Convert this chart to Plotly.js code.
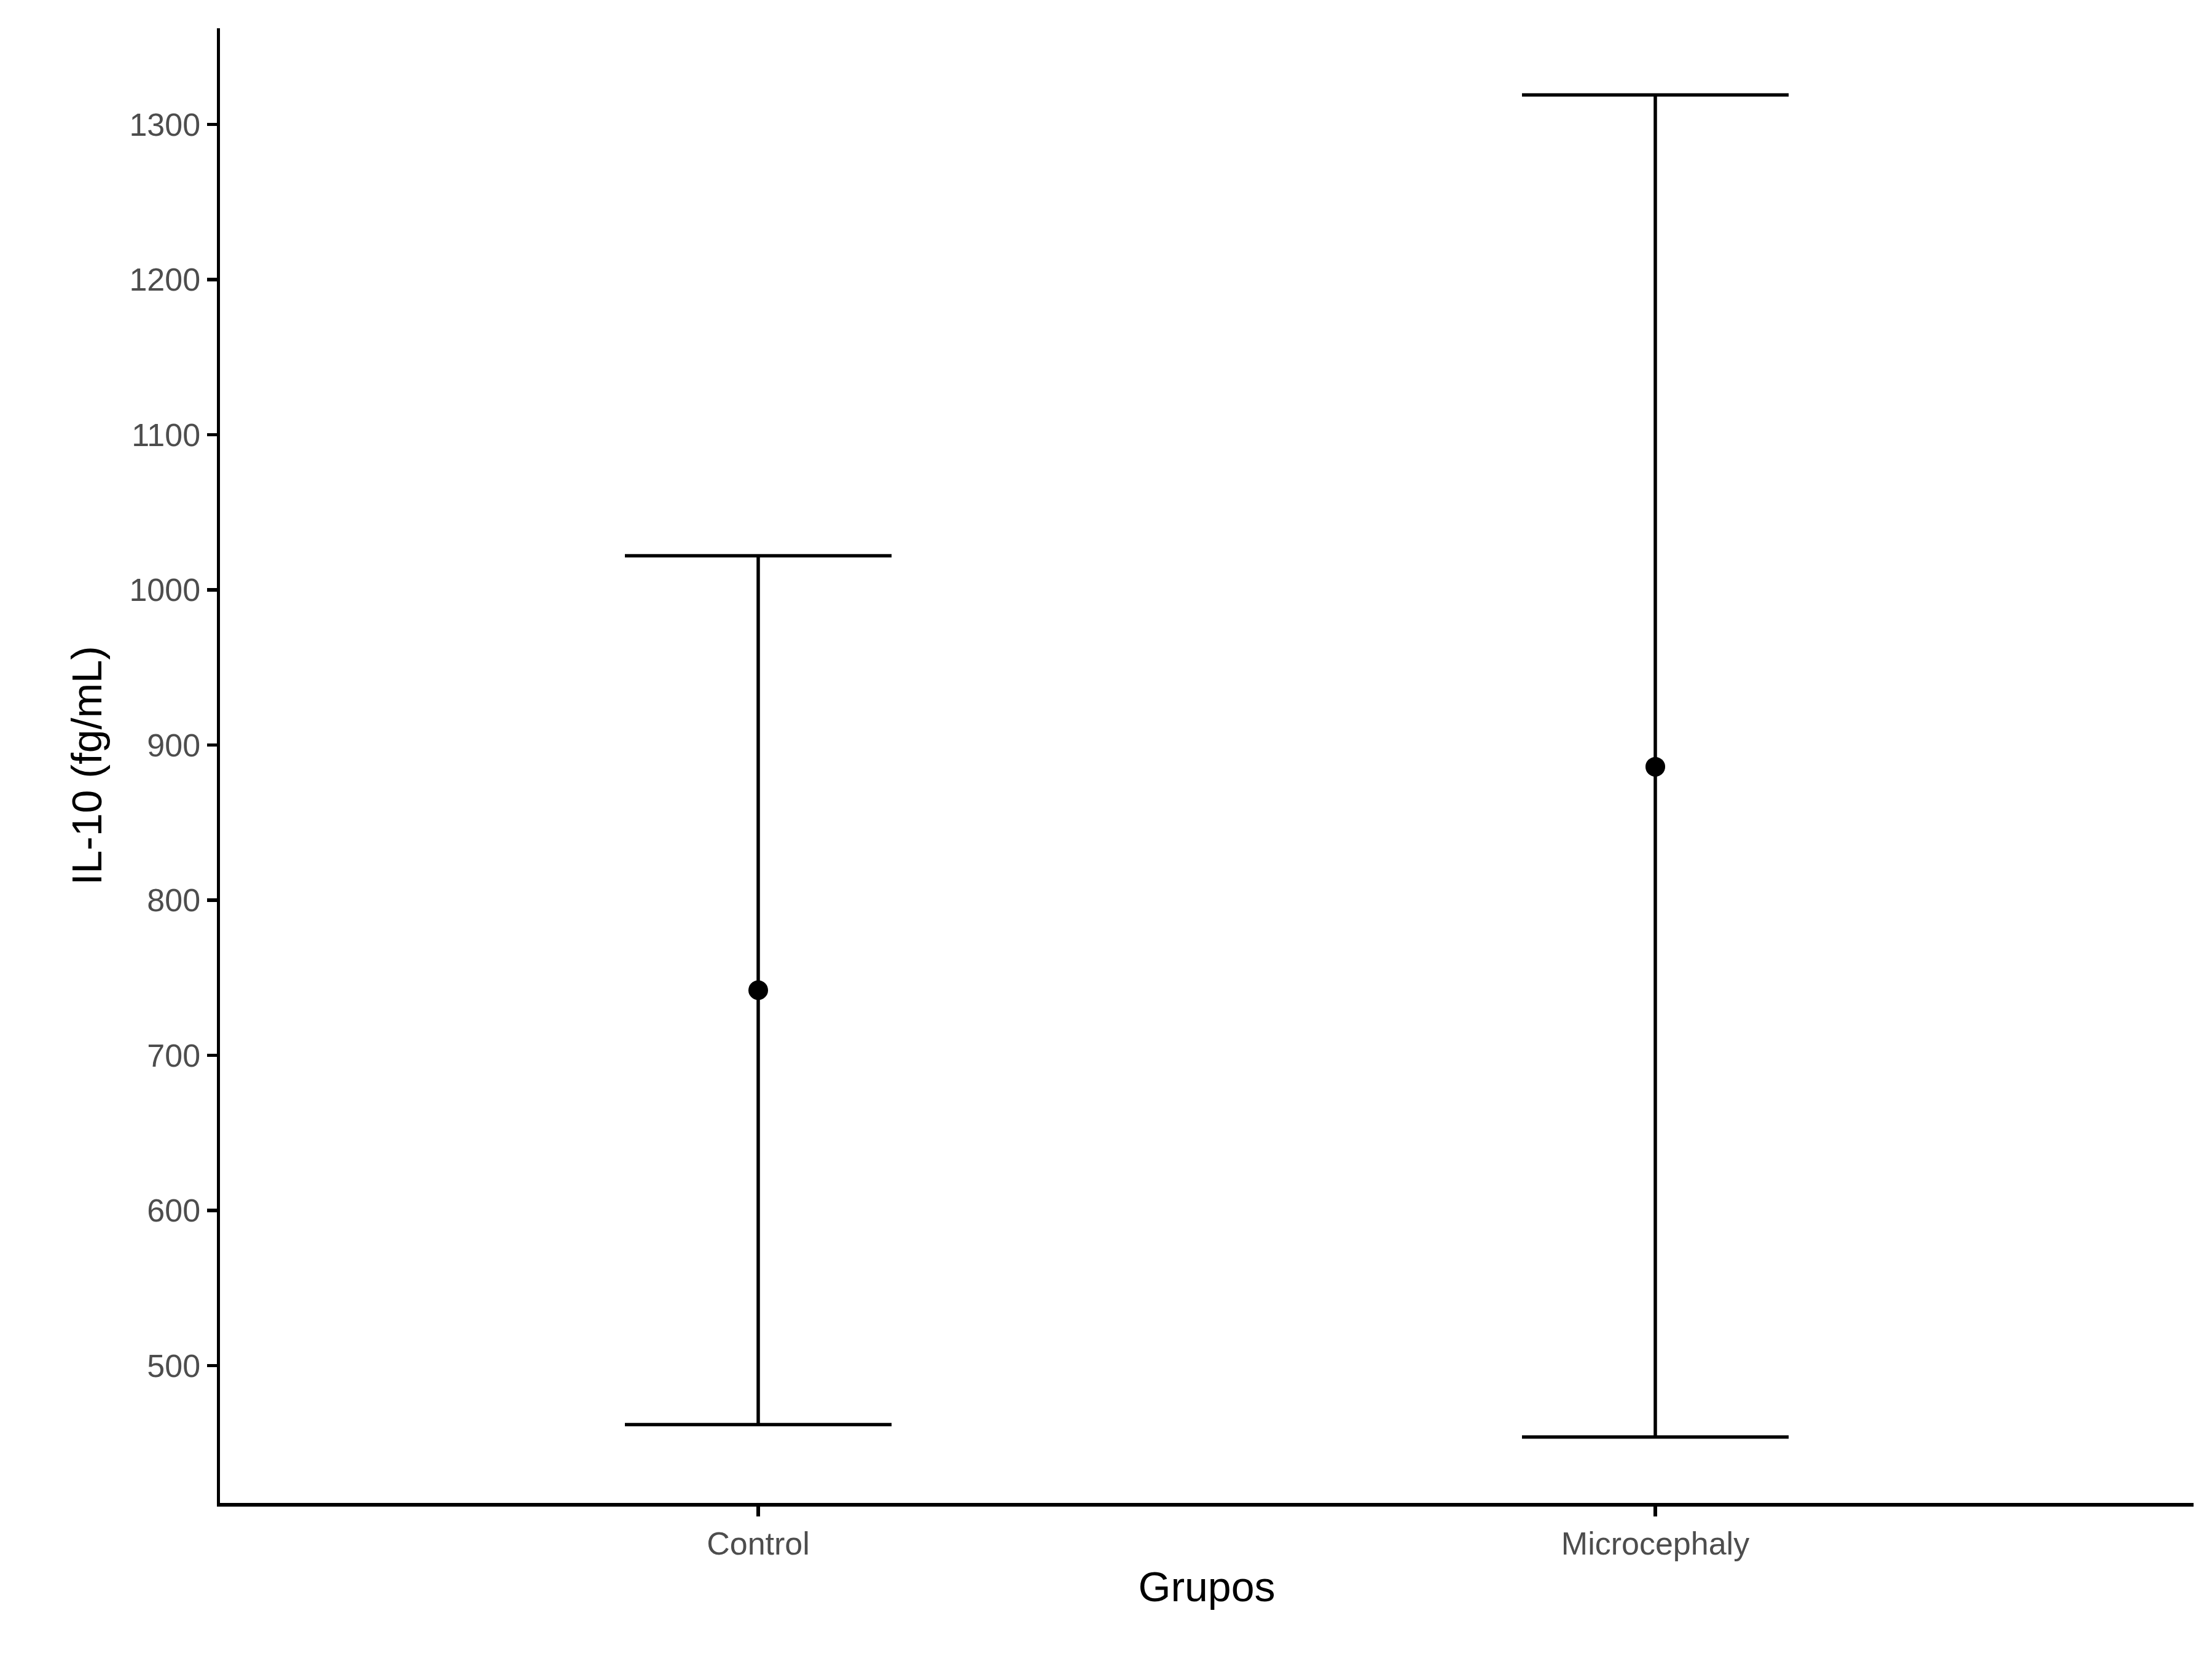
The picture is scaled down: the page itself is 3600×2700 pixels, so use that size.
<!DOCTYPE html>
<html>
<head>
<meta charset="utf-8">
<script src="https://cdn.plot.ly/plotly-3.0.1.min.js"></script>
<style>html,body{margin:0;padding:0;background:#fff}#plot{width:3600px;height:2700px}</style>
</head>
<body>
<div id="plot"></div>
<script>
// Data
const groups = ["Control", "Microcephaly"];
const means = [742, 886];
const upper = [1022, 1319];
const lower = [462, 454];

const errPlus = means.map((m, i) => upper[i] - m);
const errMinus = means.map((m, i) => m - lower[i]);

const trace = {
  type: "scatter",
  mode: "markers",
  x: groups,
  y: means,
  marker: { color: "#000", size: 32 },
  error_y: {
    type: "data",
    symmetric: false,
    array: errPlus,
    arrayminus: errMinus,
    color: "#000",
    thickness: 5.5,
    width: 217
  },
  hoverinfo: "skip"
};

const layout = {
  width: 3600,
  height: 2700,
  margin: { l: 358, r: 30, t: 46, b: 254 },
  paper_bgcolor: "#fff",
  plot_bgcolor: "#fff",
  showlegend: false,
  font: { family: "Liberation Sans, Arial, sans-serif" },
  xaxis: {
    type: "category",
    range: [-0.6, 1.6],
    showline: true, linecolor: "#000", linewidth: 5.5,
    showgrid: false, zeroline: false,
    ticks: "outside", ticklen: 16, tickwidth: 5.5, tickcolor: "#000",
    tickfont: { size: 52, color: "#4d4d4d" },
    title: { text: "Grupos", font: { size: 68, color: "#000" }, standoff: 20 }
  },
  yaxis: {
    range: [411.5, 1362],
    tickvals: [500, 600, 700, 800, 900, 1000, 1100, 1200, 1300],
    showline: true, linecolor: "#000", linewidth: 5.5,
    showgrid: false, zeroline: false,
    ticks: "outside", ticklen: 16, tickwidth: 5.5, tickcolor: "#000",
    tickfont: { size: 52, color: "#4d4d4d" },
    title: { text: "IL-10 (fg/mL)", font: { size: 68, color: "#000" }, standoff: 24 }
  }
};

Plotly.newPlot("plot", [trace], layout, { staticPlot: true });
</script>
</body>
</html>
